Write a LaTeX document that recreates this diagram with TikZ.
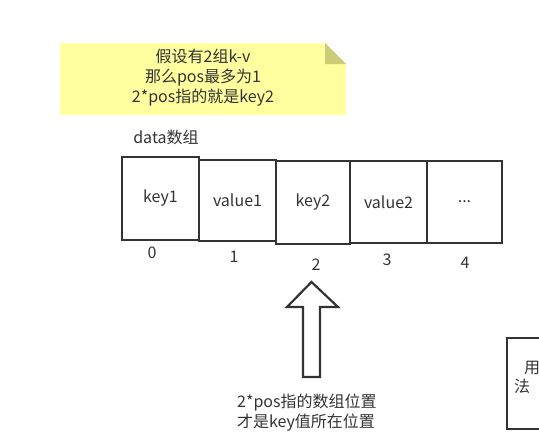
\documentclass[tikz,border=0pt]{standalone}
\usepackage{fontspec}
\setmainfont{Noto Sans CJK SC}
\definecolor{txt}{HTML}{333333}
\definecolor{notefill}{HTML}{FFFF9F}
\definecolor{notefold}{HTML}{CBCB78}
\begin{document}
\begin{tikzpicture}[x=1pt, y=-1pt, every node/.style={text=txt,
      font=\fontsize{16}{20}\selectfont, inner sep=0pt},
    cell/.style={draw=txt, line width=2.5pt, align=center},
    idx/.style={},
    arrowbox/.style={draw=txt, line width=2.2pt, fill=white}]
  \useasboundingbox (0,0) rectangle (539,439);
  % note
  \fill[notefill] (60,43) -- (325,43) -- (346,64) -- (346,115) -- (60,115) -- cycle;
  \fill[notefold] (325,43) -- (325,64) -- (346,64) -- cycle;
  \node[align=center] (note) at (203,78) {假设有2组k-v\\那么pos最多为1\\2*pos指的就是key2};
  % array
  \node (title) at (166,137) {data数组};
  \node[cell, minimum width=77pt, minimum height=83pt] (c0) at (160.5,198.5) {key1};
  \node[cell, minimum width=77pt, minimum height=81pt] (c1) at (237.5,200.5) {value1};
  \node[cell, minimum width=74pt, minimum height=83pt] (c2) at (313,202.5) {key2};
  \node[cell, minimum width=77pt, minimum height=82pt] (c3) at (388.5,202) {value2};
  \node[cell, minimum width=75pt, minimum height=82pt] (c4) at (464.5,202) {...};
  \node[idx] (i0) at (152,253) {0};
  \node[idx] (i1) at (234,257) {1};
  \node[idx] (i2) at (316,265) {2};
  \node[idx] (i3) at (387,260) {3};
  \node[idx] (i4) at (465,263) {4};
  % hollow arrow
  \draw[arrowbox, line join=miter] (311.5,282) -- (338,307) -- (320,307) -- (320,377)
    -- (303,377) -- (303,307) -- (287,307) -- cycle;
  \node[anchor=west, align=left] (pos) at (237,413) {2*pos指的数组位置\\才是key值所在位置};
  % box cut off at the right edge
  \begin{scope}
    \clip (0,0) rectangle (539,439);
    \draw[draw=txt, line width=2.5pt] (507,338) rectangle (600,429);
    \node[anchor=west] (use) at (524,368) {用};
    \node[anchor=west] (fa) at (514,386) {法};
  \end{scope}
\end{tikzpicture}
\end{document}
